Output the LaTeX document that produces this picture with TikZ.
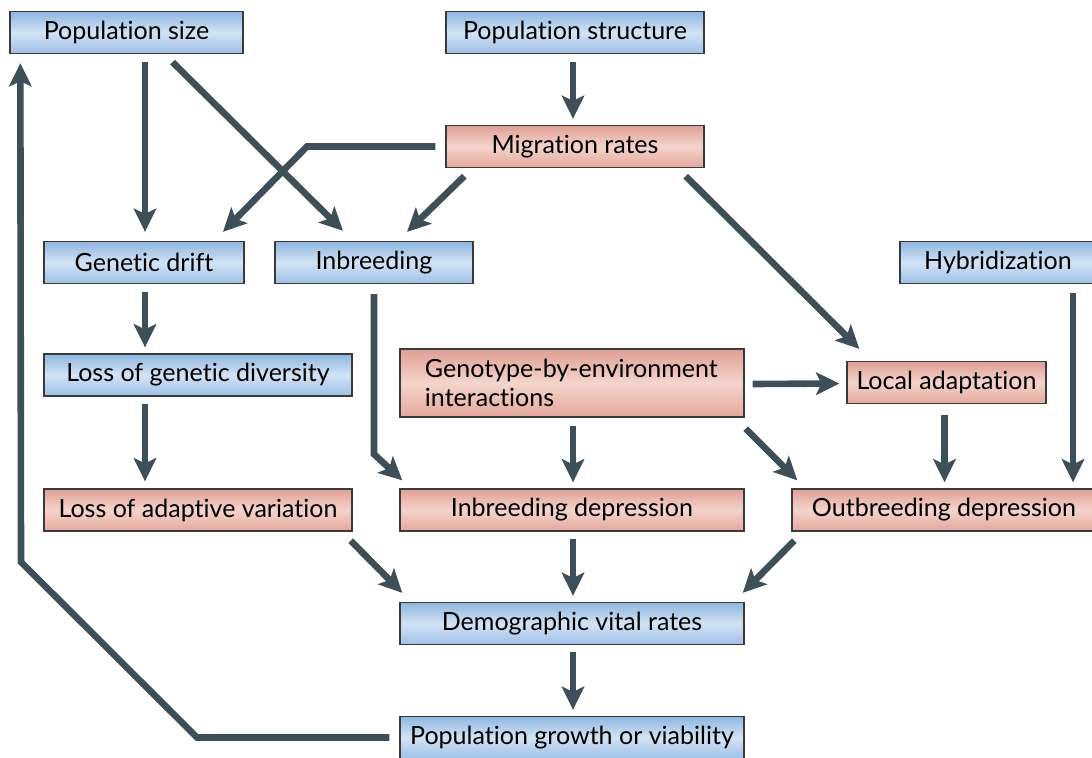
\documentclass[tikz,border=0pt]{standalone}
\usepackage{fontspec}
\setmainfont{Lato}[Ligatures=NoCommon]
\usetikzlibrary{arrows.meta,calc}
\definecolor{bluedk}{HTML}{8FB6E0}
\definecolor{bluemd}{HTML}{9EC0E6}
\definecolor{bluelt}{HTML}{D2E3F5}
\definecolor{reddk}{HTML}{DF9F94}
\definecolor{redmd}{HTML}{E4A89C}
\definecolor{redlt}{HTML}{F4D4CC}
\definecolor{boxline}{HTML}{3A3A3A}
\definecolor{arrcol}{HTML}{3D4F59}
\tikzset{
    box/.style={draw=boxline,line width=0.9pt,minimum height=1.05cm,inner sep=0pt,font=\fontsize{17.8}{21}\selectfont},
    bluebox/.style={box,top color=bluedk,bottom color=bluemd,middle color=bluelt},
    redbox/.style={box,top color=reddk,bottom color=redmd,middle color=redlt},
    arr/.style={draw=arrcol,line width=0.165cm,-{Stealth[length=0.58cm,width=0.56cm,inset=0.13cm]}}
}

\begin{document}
\begin{tikzpicture}[x=0.025cm,y=-0.025cm]
    \useasboundingbox(0,0)rectangle(1092,757);
    \clip(0,0)rectangle(1092,757);

    \node[bluebox,minimum width=5.825cm](popsize)at(126.5,32.5){Population size};
    \node[bluebox,minimum width=6.45cm](popstruct)at(575,32.5){Population structure};
    \node[redbox,minimum width=6.45cm](migration)at(575,146.5){Migration rates};
    \node[bluebox,minimum width=5cm](drift)at(144,262.5){Genetic drift};
    \node[bluebox,minimum width=4.95cm](inbreeding)at(374,262.5){Inbreeding};
    \node[bluebox,minimum width=4.9cm](hybrid)at(998,262.5){Hybridization};
    \node[bluebox,minimum width=7.7cm](lossdiv)at(198,375){Loss of genetic diversity};
    \node[redbox,minimum width=8.6cm,minimum height=1.7cm,align=left,text width=7.35cm](gxe)at(572,383){Genotype-by-environment\\interactions};
    \node[redbox,minimum width=4.975cm](localad)at(946.5,382.5){Local adaptation};
    \node[redbox,minimum width=7.7cm](lossadapt)at(198,510){Loss of adaptive variation};
    \node[redbox,minimum width=8.6cm](inbdep)at(572,510){Inbreeding depression};
    \node[redbox,minimum width=7.6cm](outdep)at(944,510){Outbreeding depression};
    \node[bluebox,minimum width=8.6cm](demog)at(572,623.5){Demographic vital rates};
    \node[bluebox,minimum width=8.6cm](growth)at(572,737.5){Population growth or viability};

    \draw[arr]($(popstruct.south)+(-2,8)$)--($(migration.north)+(-2,-6)$);
    \draw[arr]($(popsize.south-|drift)+(1,8)$)--($(drift.north)+(1,-9)$);
    \draw[arr]($(popsize.south)+(46,8)$)--($(inbreeding.north)+(-31,-10)$);
    \draw[arr]($(migration.west)+(-10,0)$)--(307,146.5)--($(drift.north)+(79,-9)$);
    \draw[arr]($(migration.south west)+(19,8)$)--($(inbreeding.north)+(33,-9)$);
    \draw[arr]($(migration.south east)+(-19,8)$)--($(localad.north west)+(13,-12)$);
    \draw[arr]($(hybrid.south)+(75,9)$)--($(hybrid.south|-outdep.north)+(75,-6)$);
    \draw[arr]($(drift.south)+(1,8)$)--($(lossdiv.north-|drift)+(1,-6)$);
    \draw[arr]($(lossdiv.south-|drift)+(1,7)$)--($(lossadapt.north-|drift)+(1,-7)$);
    \draw[arr]($(inbreeding.south)+(0,10)$)--($(inbreeding.south)+(0,170)$)--($(inbdep.north west)+(3,-8)$);
    \draw[arr]($(gxe.east)+(8,1)$)--($(localad.west)+(-7,1)$);
    \draw[arr]($(gxe.south)+(1,8)$)--($(inbdep.north)+(1,-6)$);
    \draw[arr]($(gxe.south east)+(1,11)$)--($(outdep.north west)+(6,-8)$);
    \draw[arr]($(localad.south)+(-2,11)$)--($(localad.south|-outdep.north)+(-2,-6)$);
    \draw[arr]($(lossadapt.south east)+(-2,9)$)--($(demog.north west)+(3,-9)$);
    \draw[arr]($(inbdep.south)+(1,7)$)--($(demog.north)+(1,-6)$);
    \draw[arr]($(outdep.south west)+(3,9)$)--($(demog.north east)+(-2,-9)$);
    \draw[arr]($(demog.south)+(1,7)$)--($(growth.north)+(1,-6)$);
    \draw[arr]($(growth.west)+(-10,0)$)--(197,737.5)--(21,562)--($(popsize.south west)+(11,9)$);
\end{tikzpicture}
\end{document}
